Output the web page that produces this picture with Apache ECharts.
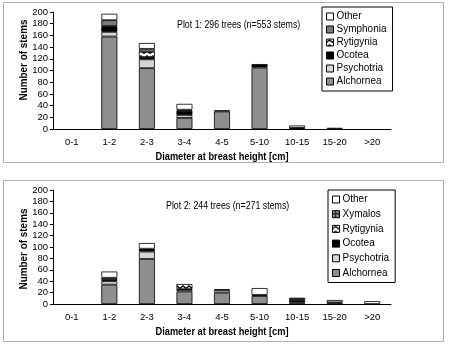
<!DOCTYPE html>
<html><head><meta charset="utf-8">
<script src="https://cdn.jsdelivr.net/npm/echarts@6/dist/echarts.min.js"></script>
<style>html,body{margin:0;padding:0;background:#fff}#c{width:450px;height:346px}</style>
</head><body><div id="c"></div>
<script>
const categories = ['0-1','1-2','2-3','3-4','4-5','5-10','10-15','15-20','>20'];
const yTicks = [0,20,40,60,80,100,120,140,160,180,200];
// Plot 1
const p1Alchornea  = [0,158,104,19,30,105,1,2,0];
const p1Psychotria = [0,8,15,5,0,0,0,0,0];
const p1Ocotea     = [0,10,4,7,0,6,1,0,0];
const p1Rytigynia  = [0,0,9,2,0,0,0,0,0];
const p1Symphonia  = [0,10,5,0,2,0,0,0,0];
const p1Other      = [0,11,10,10,0,0,4,0,0];
// Plot 2
const p2Alchornea  = [0,34,79,22,20,14,3,0,0];
const p2Psychotria = [0,6,13,3,4,0,0,0,0];
const p2Ocotea     = [0,2,5,1,2,2,4,0,0];
const p2Rytigynia  = [0,0,0,9,0,0,0,0,0];
const p2Xymalos    = [0,4,0,0,0,0,4,3,0];
const p2Other      = [0,11,10,0,0,12,0,4,5];
const title1 = 'Plot 1: 296 trees (n=553 stems)';
const title2 = 'Plot 2: 244 trees (n=271 stems)';
const xName = 'Diameter at breast height [cm]';
const yName = 'Number of stems';

function zigzag(){
  const c=document.createElement('canvas');c.width=6;c.height=5;
  const g=c.getContext('2d');g.fillStyle='#fff';g.fillRect(0,0,6,5);
  g.strokeStyle='#000';g.lineWidth=1.4;g.beginPath();
  g.moveTo(0,3.5);g.lineTo(3,1);g.lineTo(6,3.5);g.stroke();
  return {image:c,repeat:'repeat'};
}
function dotted(){
  const c=document.createElement('canvas');c.width=4;c.height=4;
  const g=c.getContext('2d');g.fillStyle='#333';g.fillRect(0,0,4,4);
  g.fillStyle='#bbb';g.fillRect(0,0,2,2);
  return {image:c,repeat:'repeat'};
}
const colors = {
  Alchornea:'#8f8f8f', Psychotria:'#d4d4d4', Ocotea:'#000000',
  Rytigynia:zigzag(), Symphonia:'#7a7a7a', Xymalos:dotted(), Other:'#ffffff'
};
const font = 'Arial,"Liberation Sans",sans-serif';

function mk(name,data,idx){
  return {name:name,type:'bar',stack:'s'+idx,xAxisIndex:idx,yAxisIndex:idx,
    data:data.map(v=>v===0?'-':v),
    barWidth:16,itemStyle:{color:colors[name],borderColor:'#000',borderWidth:0.8},
    emphasis:{disabled:true},animation:false};
}
const series = [
  mk('Alchornea',p1Alchornea,0),mk('Psychotria',p1Psychotria,0),mk('Ocotea',p1Ocotea,0),
  mk('Rytigynia',p1Rytigynia,0),mk('Symphonia',p1Symphonia,0),mk('Other',p1Other,0),
  mk('Alchornea',p2Alchornea,1),mk('Psychotria',p2Psychotria,1),mk('Ocotea',p2Ocotea,1),
  mk('Rytigynia',p2Rytigynia,1),mk('Xymalos',p2Xymalos,1),mk('Other',p2Other,1)
];
function xAx(i){
  return {type:'category',gridIndex:i,data:categories,
    axisLine:{lineStyle:{color:'#000',width:1}},
    axisTick:{length:4,lineStyle:{color:'#000'}},
    axisLabel:{color:'#000',fontSize:9.5,fontFamily:font,margin:8}};
}
function yAx(i){
  return {type:'value',gridIndex:i,min:yTicks[0],max:yTicks[yTicks.length-1],interval:yTicks[1]-yTicks[0],
    splitLine:{show:false},
    axisLine:{show:true,lineStyle:{color:'#000',width:1}},
    axisTick:{show:true,length:3,lineStyle:{color:'#000'}},
    axisLabel:{color:'#000',fontSize:9.5,fontFamily:font,margin:5}};
}
function leg(names,top,gap,left){
  return {orient:'vertical',left:left,top:top,data:names,itemWidth:7,itemHeight:7,itemGap:gap,
    borderColor:'#000',borderWidth:1,padding:[3,6,3,4],backgroundColor:'#fff',
    itemStyle:{borderColor:'#000',borderWidth:1},
    textStyle:{color:'#000',fontSize:10,fontFamily:font,lineHeight:13,padding:[0,0,0,-2]},selectedMode:false,icon:'rect'};
}
function txt(t,x,y,opt){
  return Object.assign({type:'text',x:x,y:y,scaleX:0.84,
    style:Object.assign({text:t,fontFamily:font,fill:'#000'},opt)});
}
const chart = echarts.init(document.getElementById('c'),null,{renderer:'canvas'});
chart.setOption({
  animation:false,
  grid:[{left:53,top:12,width:338,height:117},{left:53,top:190,width:338,height:114}],
  xAxis:[xAx(0),xAx(1)],
  yAxis:[yAx(0),yAx(1)],
  legend:[
    leg(['Other','Symphonia','Rytigynia','Ocotea','Psychotria','Alchornea'],7,0,322),
    leg(['Other','Xymalos','Rytigynia','Ocotea','Psychotria','Alchornea'],190,1.7,328)
  ],
  graphic:[
    {type:'rect',shape:{x:3.5,y:2.5,width:440,height:160},style:{fill:null,stroke:'#b0b0b0',lineWidth:1},z:-1},
    {type:'rect',shape:{x:3.5,y:180.5,width:440,height:161},style:{fill:null,stroke:'#b0b0b0',lineWidth:1},z:-1},
    txt(title1,177,20,{fontSize:10.5}),
    txt(title2,166,201,{fontSize:10.5}),
    txt(xName,222,151,{fontSize:11,fontWeight:'bold',align:'center'}),
    txt(xName,222,326,{fontSize:11,fontWeight:'bold',align:'center'}),
    Object.assign(txt(yName,24,60,{fontSize:11,fontWeight:'bold',align:'center',verticalAlign:'middle'}),{rotation:Math.PI/2,scaleX:0.9}),
    Object.assign(txt(yName,24,249,{fontSize:11,fontWeight:'bold',align:'center',verticalAlign:'middle'}),{rotation:Math.PI/2,scaleX:0.9})
  ],
  series:series
});
</script></body></html>
